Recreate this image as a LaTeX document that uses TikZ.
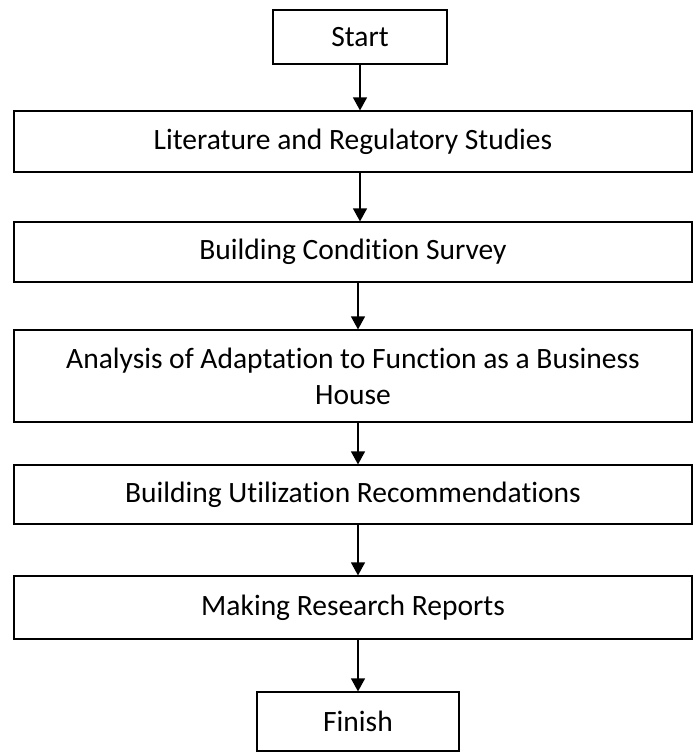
\documentclass[tikz,border=0pt]{standalone}
\usepackage{fontspec}
\setmainfont{Carlito}[Ligatures=NoCommon]
\usetikzlibrary{arrows.meta}
\begin{document}
\begin{tikzpicture}[x=1pt,y=-1pt,
  box/.style={draw=black, line width=1.2pt, align=center, inner sep=0pt,
    font=\fontsize{29.5}{36}\selectfont},
  widebox/.style={box, minimum width=678pt},
  flow/.style={-{Triangle[length=13pt,width=14pt]}, line width=1.2pt}]
\useasboundingbox (0,0) rectangle (693,753);

% process steps
\node[box, minimum width=174pt, minimum height=54pt] (start) at (360,37) {Start};
\node[widebox, minimum height=61pt] (lit) at (353,141.5) {Literature and Regulatory Studies};
\node[widebox, minimum height=60pt] (survey) at (353,252) {Building Condition Survey};
\node[widebox, minimum height=92pt] (analysis) at (353,376) {Analysis of Adaptation to Function as a Business\\House};
\node[widebox, minimum height=59pt] (recom) at (353,494.5) {Building Utilization Recommendations};
\node[widebox, minimum height=63pt] (report) at (353,607.5) {Making Research Reports};
\node[box, minimum width=202pt, minimum height=59pt] (finish) at (358,721.5) {Finish};

% flow between the steps
\draw[flow] (start.south) -- (start.south |- lit.north);
\draw[flow] (lit.south -| start) -- (survey.north -| start);
\draw[flow] (survey.south -| finish) -- (analysis.north -| finish);
\draw[flow] (analysis.south -| finish) -- (recom.north -| finish);
\draw[flow] (recom.south -| finish) -- (report.north -| finish);
\draw[flow] (report.south -| finish) -- (finish.north);
\end{tikzpicture}
\end{document}
